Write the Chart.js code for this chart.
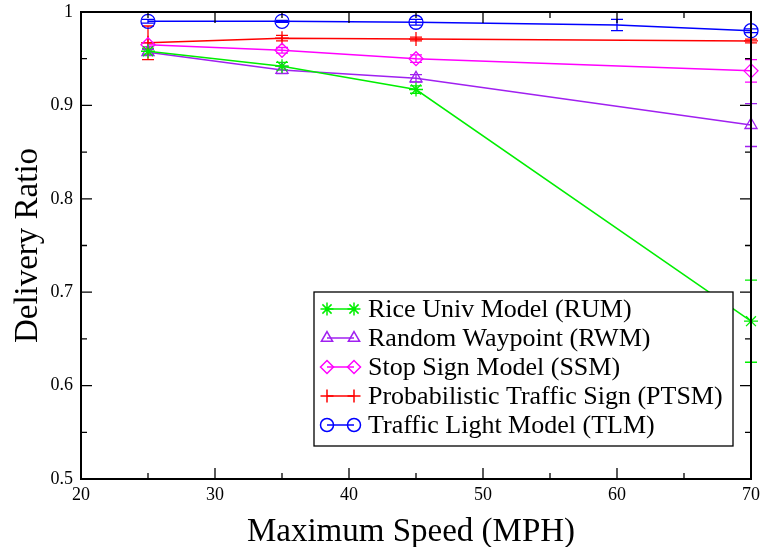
<!DOCTYPE html>
<html>
<head>
<meta charset="utf-8">
<script src="https://cdn.jsdelivr.net/npm/chart.js@4.4.1/dist/chart.umd.min.js"></script>
<style>
  html, body { margin: 0; padding: 0; background: #fff; }
  #wrap { width: 760px; height: 547px; }
</style>
</head>
<body>
<div id="wrap"><canvas id="deliveryChart" width="760" height="547"></canvas></div>
<script>
// maximum speed (MPH) for each run
const speeds = [25, 35, 45, 70]
const tlmSpeeds = [25, 35, 45, 60, 70]

// delivery ratio and error half-width per mobility model
const rumRatio = [0.958, 0.942, 0.917, 0.669]
const rumErr = [0.003, 0.004, 0.004, 0.044]
const rwmRatio = [0.957, 0.938, 0.929, 0.879]
const rwmErr = [0.003, 0.004, 0.004, 0.023]
const ssmRatio = [0.965, 0.959, 0.950, 0.937]
const ssmErr = [0.002, 0.003, 0.004, 0.012]
const ptsmRatio = [0.967, 0.972, 0.971, 0.969]
const ptsmErr = [0.018, 0.003, 0.002, 0.002]
const tlmRatio = [0.990, 0.990, 0.989, 0.986, 0.980]
const tlmErr = [0.002, 0.001, 0.003, 0.006, 0.002]

const xTicks = [20, 30, 40, 50, 60, 70]
const yTicks = [0.5, 0.6, 0.7, 0.8, 0.9, 1]

const SERIF = "'Liberation Serif', 'DejaVu Serif', serif"

function points(xs, ys, errs) {
  return xs.map((x, i) => ({ x: x, y: ys[i], err: errs[i] }))
}

function series(label, xs, ys, errs, color, style, radius) {
  return {
    label: label,
    data: points(xs, ys, errs),
    borderColor: color,
    backgroundColor: "rgba(0,0,0,0)",
    borderWidth: 1.5,
    pointStyle: style,
    pointRadius: radius,
    pointBorderWidth: 1.3,
    pointBorderColor: color,
    pointBackgroundColor: "rgba(0,0,0,0)",
    tension: 0,
    clip: false,
  }
}

const datasets = [
  series("Rice Univ Model (RUM)", speeds, rumRatio, rumErr, "#00ee00", "star", 7),
  series("Random Waypoint (RWM)", speeds, rwmRatio, rwmErr, "#a020f0", "triangle", 7),
  series("Stop Sign Model (SSM)", speeds, ssmRatio, ssmErr, "#ff00ff", "rectRot", 7),
  series("Probabilistic Traffic Sign (PTSM)", speeds, ptsmRatio, ptsmErr, "#ff0000", "cross", 7),
  series("Traffic Light Model (TLM)", tlmSpeeds, tlmRatio, tlmErr, "#0000ff", "circle", [7, 7, 7, 0, 7]),
]

// error bars, frame, inward ticks, titles and the boxed legend
const decorations = {
  id: "decorations",
  beforeDatasetsDraw(chart) {
    const ctx = chart.ctx
    const xs = chart.scales.x
    const ys = chart.scales.y
    ctx.save()
    chart.data.datasets.forEach((ds) => {
      ctx.strokeStyle = ds.borderColor
      ctx.lineWidth = 1.3
      ds.data.forEach((p) => {
        const px = xs.getPixelForValue(p.x)
        const top = ys.getPixelForValue(p.y + p.err)
        const bot = ys.getPixelForValue(p.y - p.err)
        ctx.beginPath()
        ctx.moveTo(px, top)
        ctx.lineTo(px, bot)
        ctx.moveTo(px - 6, top)
        ctx.lineTo(px + 6, top)
        ctx.moveTo(px - 6, bot)
        ctx.lineTo(px + 6, bot)
        ctx.stroke()
      })
    })
    ctx.restore()
  },
  afterDraw(chart) {
    const ctx = chart.ctx
    const area = chart.chartArea
    const xs = chart.scales.x
    const ys = chart.scales.y
    ctx.save()

    // axis frame
    ctx.strokeStyle = "#000"
    ctx.lineWidth = 2
    ctx.strokeRect(area.left, area.top, area.right - area.left, area.bottom - area.top)

    // ticks pointing into the plot on all four sides
    ctx.lineWidth = 1.3
    ctx.beginPath()
    for (let v = 20; v <= 70; v += 5) {
      const len = v % 10 === 0 ? 11 : 6
      const px = xs.getPixelForValue(v)
      ctx.moveTo(px, area.bottom)
      ctx.lineTo(px, area.bottom - len)
      ctx.moveTo(px, area.top)
      ctx.lineTo(px, area.top + len)
    }
    for (let i = 0; i <= 10; i++) {
      const v = 0.5 + i * 0.05
      const len = i % 2 === 0 ? 11 : 6
      const py = ys.getPixelForValue(v)
      ctx.moveTo(area.left, py)
      ctx.lineTo(area.left + len, py)
      ctx.moveTo(area.right, py)
      ctx.lineTo(area.right - len, py)
    }
    ctx.stroke()

    // axis titles
    ctx.fillStyle = "#000"
    ctx.font = "33px " + SERIF
    ctx.textAlign = "center"
    ctx.textBaseline = "middle"
    ctx.fillText("Maximum Speed (MPH)", 411, 532)
    ctx.save()
    ctx.translate(28, (area.top + area.bottom) / 2)
    ctx.rotate(-Math.PI / 2)
    ctx.fillText("Delivery Ratio", 0, 0)
    ctx.restore()

    // legend box
    const box = { left: 314, top: 292, right: 733, bottom: 446 }
    ctx.fillStyle = "#fff"
    ctx.fillRect(box.left, box.top, box.right - box.left, box.bottom - box.top)
    ctx.strokeStyle = "#000"
    ctx.lineWidth = 1.3
    ctx.strokeRect(box.left, box.top, box.right - box.left, box.bottom - box.top)

    ctx.font = "26px " + SERIF
    ctx.textAlign = "left"
    chart.data.datasets.forEach((ds, i) => {
      const y = 309 + i * 29
      ctx.strokeStyle = ds.borderColor
      ctx.lineWidth = 1.5
      ctx.beginPath()
      ctx.moveTo(327, y)
      ctx.lineTo(354, y)
      ctx.stroke()
      const opts = { pointStyle: ds.pointStyle, rotation: 0, radius: 6.5, borderWidth: 1.3 }
      ctx.fillStyle = "rgba(0,0,0,0)"
      Chart.helpers.drawPoint(ctx, opts, 327, y)
      Chart.helpers.drawPoint(ctx, opts, 354, y)
      ctx.fillStyle = "#000"
      ctx.fillText(ds.label, 368, y + 1)
    })
    ctx.restore()
  },
}

const config = {
  type: "line",
  data: { datasets: datasets },
  options: {
    responsive: false,
    animation: false,
    layout: { padding: { top: 12, right: 9, left: 0, bottom: 0 } },
    scales: {
      x: {
        type: "linear",
        min: 20,
        max: 70,
        afterFit: (scale) => {
          scale.height = 68
          scale.paddingLeft = 0
          scale.paddingRight = 0
        },
        afterBuildTicks: (scale) => { scale.ticks = xTicks.map((v) => ({ value: v })) },
        grid: { display: false, drawTicks: false },
        border: { display: false },
        ticks: {
          color: "#000",
          padding: 5,
          maxRotation: 0,
          font: { family: SERIF, size: 18 },
        },
      },
      y: {
        min: 0.5,
        max: 1,
        afterFit: (scale) => {
          scale.width = 81
          scale.paddingTop = 0
          scale.paddingBottom = 0
        },
        afterBuildTicks: (scale) => { scale.ticks = yTicks.map((v) => ({ value: v })) },
        grid: { display: false, drawTicks: false },
        border: { display: false },
        ticks: {
          color: "#000",
          padding: 8,
          font: { family: SERIF, size: 18 },
          callback: (v) => (v === 1 ? "1" : v.toFixed(1)),
        },
      },
    },
    plugins: {
      legend: { display: false },
      tooltip: { enabled: false },
    },
  },
  plugins: [decorations],
}

new Chart(document.getElementById("deliveryChart"), config)
</script>
</body>
</html>
